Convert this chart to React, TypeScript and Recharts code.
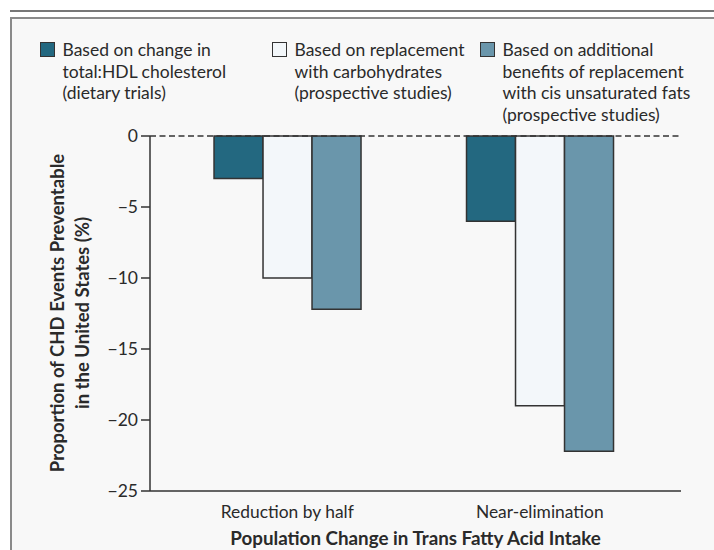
import React from 'react'
import { BarChart, Bar, XAxis, YAxis, ReferenceLine } from 'recharts'

const categories = ['Reduction by half', 'Near-elimination']
const dietaryTrials = [-3, -6]
const carbReplacement = [-10, -19]
const cisUnsaturated = [-12.2, -22.2]
const yTicks = [0, -5, -10, -15, -20, -25]

const seriesKeys = ['dietary', 'carb', 'cis']
const seriesColors = ['#236880', '#f3f7fa', '#6a96ab']
const legendLines = [
  ['Based on change in', 'total:HDL cholesterol', '(dietary trials)'],
  ['Based on replacement', 'with carbohydrates', '(prospective studies)'],
  ['Based on additional', 'benefits of replacement', 'with cis unsaturated fats', '(prospective studies)'],
]
const legendX = [40, 272, 480]

const yTitle = ['Proportion of CHD Events Preventable', 'in the United States (%)']
const xTitle = 'Population Change in Trans Fatty Acid Intake'

const FONT = 'Lato, "Open Sans", sans-serif'
const INK = '#2a2a2a'

const data = categories.map((name, i) => ({
  name, dietary: dietaryTrials[i], carb: carbReplacement[i], cis: cisUnsaturated[i],
}))

const fmt = (v: number) => (v < 0 ? '\u2212' + Math.abs(v) : String(v))

function YTitle() {
  return (
    <g transform="translate(70, 313) rotate(-90)">
      <text textAnchor="middle" fontFamily={FONT} fontWeight={700} fontSize={18.5} fill={INK}>
        <tspan x={0} y={-6.3}>{yTitle[0]}</tspan>
        <tspan x={0} y={18.7}>{yTitle[1]}</tspan>
      </text>
    </g>
  )
}

export default function App() {
  return (
    <div style={{ position: 'absolute', left: 0, top: 0, width: 714, height: 550, background: '#fff', overflow: 'hidden', fontFamily: FONT }}>
      <div style={{ position: 'absolute', left: 10, right: 0, top: 10, height: 2, background: '#777' }} />
      <div style={{ position: 'absolute', left: 10, top: 17, width: 720, height: 560, border: '2px solid #8a8a8a', background: '#f8f8f8' }} />
      {legendLines.map((lines, i) => (
        <div key={i} style={{ position: 'absolute', left: legendX[i], top: 40, display: 'flex', alignItems: 'flex-start' }}>
          <div style={{ width: 12.5, height: 12.5, marginTop: 2, background: seriesColors[i], border: '1.5px solid #333', flexShrink: 0 }} />
          <div style={{ marginLeft: 8, fontSize: 17.5, lineHeight: '21.6px', color: INK, marginTop: -1 }}>
            {lines.map((l, j) => <div key={j}>{l}</div>)}
          </div>
        </div>
      ))}
      <div style={{ position: 'absolute', left: 0, top: 0 }}>
        <BarChart width={714} height={550} data={data} margin={{ top: 136, right: 33, left: 0, bottom: 0 }} barGap={0} barCategoryGap="21%">
          <XAxis dataKey="name" height={59} padding={{ left: 11, right: 15 }} axisLine={{ stroke: '#333', strokeWidth: 1.5 }} tickLine={false} tickMargin={9}
            tick={{ fill: INK, fontSize: 17.4, fontFamily: FONT }}
            label={{ value: xTitle, position: 'insideBottom', offset: 5.5, fill: INK, fontSize: 18.8, fontWeight: 700, fontFamily: FONT }} />
          <YAxis type="number" domain={[-25, 0]} ticks={yTicks} width={150} tickSize={9} tickMargin={3} tickFormatter={fmt}
            axisLine={{ stroke: '#333', strokeWidth: 1.5 }} tickLine={{ stroke: '#333', strokeWidth: 1.5 }}
            tick={{ fill: INK, fontSize: 17.5, fontFamily: FONT }} label={<YTitle />} />
          <ReferenceLine y={0} stroke="#333" strokeWidth={1.5} strokeDasharray="6 3.5" />
          {seriesKeys.map((k, i) => (
            <Bar key={k} dataKey={k} fill={seriesColors[i]} stroke="#333" strokeWidth={1.5} isAnimationActive={false} />
          ))}
        </BarChart>
      </div>
    </div>
  )
}
